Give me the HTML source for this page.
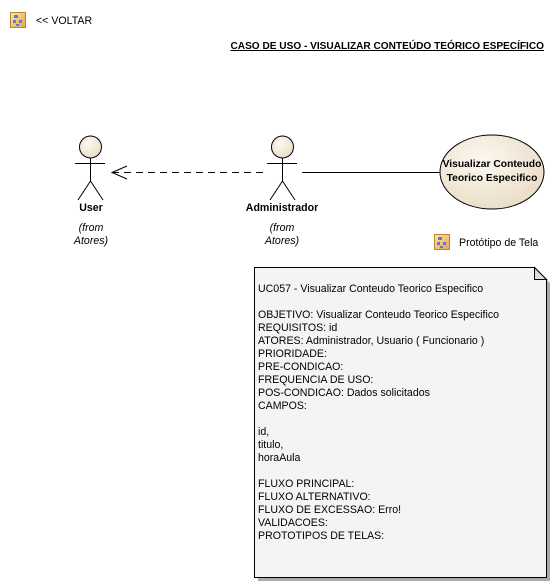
<!DOCTYPE html>
<html><head><meta charset="utf-8"><style>
body{margin:0;width:555px;height:588px;background:#fff;overflow:hidden;position:relative;font-family:"Liberation Sans",Arial,sans-serif;font-size:10.6px;color:#000}
.t{position:absolute;white-space:nowrap;line-height:13px}
</style></head><body>
<svg width="555" height="588" style="position:absolute;left:0;top:0">
<defs>
<radialGradient id="g" cx="40%" cy="35%" r="70%"><stop offset="0" stop-color="#fdf8f0"/><stop offset="1" stop-color="#e9dcc6"/></radialGradient>
<linearGradient id="ic" x1="0" y1="0" x2="1" y2="1"><stop offset="0" stop-color="#fde7a8"/><stop offset="1" stop-color="#e9a24a"/></linearGradient>
</defs>
<g transform="translate(10,12)"><rect x="0.5" y="0.5" width="15" height="15" fill="url(#ic)" stroke="#b8862e"/><rect x="4" y="3" width="4" height="3" fill="#5a7ad8"/><rect x="3" y="8" width="3" height="3" fill="#5a7ad8"/><rect x="9" y="8" width="3" height="3" fill="#5a7ad8"/><rect x="6" y="12" width="3" height="2" fill="#5a7ad8"/></g>
<g transform="translate(434,234)"><rect x="0.5" y="0.5" width="15" height="15" fill="url(#ic)" stroke="#b8862e"/><rect x="4" y="3" width="4" height="3" fill="#5a7ad8"/><rect x="3" y="8" width="3" height="3" fill="#5a7ad8"/><rect x="9" y="8" width="3" height="3" fill="#5a7ad8"/><rect x="6" y="12" width="3" height="2" fill="#5a7ad8"/></g>
<g stroke="#000" stroke-width="1" fill="none">
<circle cx="90.5" cy="147" r="11" fill="url(#g)"/>
<line x1="75" y1="163.5" x2="105" y2="163.5"/><line x1="90.5" y1="158" x2="90.5" y2="181"/><line x1="90.5" y1="181" x2="78" y2="200"/><line x1="90.5" y1="181" x2="103" y2="200"/>
<circle cx="282.5" cy="147" r="11" fill="url(#g)"/>
<line x1="267" y1="163.5" x2="297" y2="163.5"/><line x1="282.5" y1="158" x2="282.5" y2="181"/><line x1="282.5" y1="181" x2="270" y2="200"/><line x1="282.5" y1="181" x2="295" y2="200"/>
<line x1="112" y1="172.5" x2="264" y2="172.5" stroke-dasharray="7,5"/>
<polyline points="127,166 112,172.5 127,179"/>
<line x1="302" y1="172.5" x2="440" y2="172.5"/>
<ellipse cx="492" cy="172" rx="52" ry="37" fill="url(#g)"/>
</g>
<polygon points="258,271 538,271 550,283 550,581 258,581" fill="#aaa"/>
<polygon points="254.5,267.5 534.5,267.5 546.5,279.5 546.5,577.5 254.5,577.5" fill="#f6f3f5" stroke="#000"/>
<polygon points="534.5,267.5 534.5,279.5 546.5,279.5" fill="#ddd" stroke="#000"/>
</svg>
<div class="t" style="left:36px;top:15px">&lt;&lt; VOLTAR</div>
<div class="t" style="right:11px;top:40px;font-size:10.1px;font-weight:bold;text-decoration:underline">CASO DE USO - VISUALIZAR CONTEÚDO TEÓRICO ESPECÍFICO</div>
<div class="t" style="left:61px;width:60px;text-align:center;top:202px;font-weight:bold">User</div>
<div class="t" style="left:61px;width:60px;text-align:center;top:222px;font-style:italic">(from<br>Atores)</div>
<div class="t" style="left:232px;width:100px;text-align:center;top:202px;font-weight:bold">Administrador</div>
<div class="t" style="left:232px;width:100px;text-align:center;top:222px;font-style:italic">(from<br>Atores)</div>
<div class="t" style="left:440px;width:104px;text-align:center;top:158px;font-size:10.3px;font-weight:bold;line-height:14px">Visualizar Conteudo<br>Teorico Especifico</div>
<div class="t" style="left:459px;top:237px">Protótipo de Tela</div>
<div class="t" style="left:258px;top:283px">UC057 - Visualizar Conteudo Teorico Especifico<br><br>OBJETIVO: Visualizar Conteudo Teorico Especifico<br>REQUISITOS: id<br>ATORES: Administrador, Usuario ( Funcionario )<br>PRIORIDADE:<br>PRE-CONDICAO:<br>FREQUENCIA DE USO:<br>POS-CONDICAO: Dados solicitados<br>CAMPOS:<br><br>id,<br>titulo,<br>horaAula<br><br>FLUXO PRINCIPAL:<br>FLUXO ALTERNATIVO:<br>FLUXO DE EXCESSAO: Erro!<br>VALIDACOES:<br>PROTOTIPOS DE TELAS:</div>
</body></html>
